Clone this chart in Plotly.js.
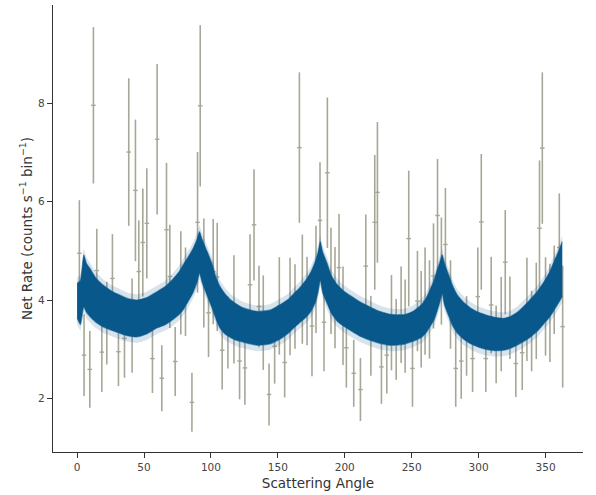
<!DOCTYPE html>
<html>
<head>
<meta charset="utf-8">
<script src="https://cdn.plot.ly/plotly-3.0.1.min.js"></script>
<style>html,body{margin:0;padding:0;background:#fff;}#chart{width:596px;height:495px;}</style>
</head>
<body>
<div id="chart"></div>
<script>
// Observed binned net rate
const angle = [1.7, 5.2, 9.5, 12.2, 14.7, 18.5, 22.2, 26.4, 30.9, 35.4, 38.6, 41.1, 43.6, 46.1,
  49.1, 52.1, 56.3, 59.8, 63.3, 66.8, 69.3, 73.3, 77.5, 81.0, 85.8, 90.0, 92.0, 94.7, 98.2,
  101.7, 104.7, 108.4, 112.7, 117.2, 121.4, 125.4, 129.2, 132.2, 135.9, 139.1, 143.4, 147.6, 151.1,
  155.1, 159.1, 162.8, 166.1, 168.3, 171.8, 175.5, 178.5, 181.5, 184.5, 187.0, 189.7, 192.7, 195.7, 198.7, 201.2,
  206.7, 211.7, 215.7, 219.5, 222.4, 224.4, 227.4, 231.4, 234.9, 238.4, 242.1, 245.1, 247.8, 250.6, 254.3, 257.1,
  260.0, 263.3, 266.3, 269.3, 272.2, 275.2, 279.0, 282.9, 287.0, 291.0, 295.5, 299.4, 302.0, 305.4, 309.4,
  313.1, 316.9, 319.9, 323.4, 327.8, 332.6, 336.1, 339.6, 343.1, 345.5, 347.6, 350.0, 353.3, 356.5, 360.3, 362.8];
const rate = [4.95, 2.88, 2.59, 7.96, 4.60, 2.94, 3.53, 4.44, 2.95, 3.22, 7.01, 3.48, 6.23, 4.58,
  5.17, 5.56, 2.81, 7.27, 2.41, 5.43, 4.48, 2.75, 4.35, 4.17, 1.92, 5.58, 7.95, 4.55, 3.74,
  4.58, 4.47, 2.98, 3.34, 3.81, 2.76, 2.62, 4.31, 5.53, 3.87, 3.54, 2.08, 3.06, 3.88,
  2.73, 3.87, 3.87, 7.10, 4.22, 3.98, 3.47, 4.42, 5.62, 3.55, 6.59, 4.39, 4.05, 4.66, 3.68, 3.03,
  2.51, 2.18, 4.69, 3.27, 5.58, 6.19, 2.64, 2.88, 3.54, 3.20, 3.70, 3.47, 5.25, 2.61, 3.98, 3.61,
  3.98, 3.81, 4.49, 5.72, 4.59, 5.13, 3.91, 2.61, 2.76, 3.27, 2.81, 4.07, 5.59, 2.81, 3.90,
  3.10, 3.51, 4.77, 3.64, 2.71, 2.93, 3.81, 3.37, 3.78, 5.46, 7.09, 3.87, 3.74, 4.21, 5.07, 3.46];
const rateErr = [1.08, 0.83, 0.78, 1.59, 0.85, 0.81, 0.84, 0.90, 0.70, 0.80, 1.50, 0.96, 1.44, 1.04,
  1.10, 1.12, 0.70, 1.53, 0.67, 1.36, 1.05, 0.70, 1.05, 0.90, 0.60, 1.43, 1.64, 1.11, 0.90,
  1.07, 1.10, 0.80, 0.73, 1.10, 0.78, 0.75, 1.03, 1.13, 0.83, 0.96, 0.63, 0.76, 0.99,
  0.71, 0.99, 0.86, 1.53, 1.11, 0.90, 1.02, 1.09, 1.18, 1.00, 1.53, 1.08, 1.03, 1.09, 1.00, 0.81,
  0.68, 0.64, 1.05, 0.81, 1.37, 1.43, 0.75, 0.78, 0.97, 0.82, 0.98, 0.95, 1.38, 0.78, 1.02, 0.98,
  1.09, 1.00, 1.07, 1.15, 1.09, 1.15, 0.90, 0.78, 0.77, 0.81, 0.68, 1.00, 1.38, 0.68, 0.98,
  0.79, 0.96, 1.06, 0.84, 0.68, 0.76, 1.05, 0.82, 0.98, 1.38, 1.54, 1.00, 1.00, 0.90, 1.10, 1.24];
const binHalfWidth = 1.7;

// Posterior model band (edges)
const bandAngle = [0, 2.5,
  5, 7, 9.7, 14, 19.7, 26, 32.2, 38, 44.7, 52, 59.6, 66, 72, 76, 79.5, 83, 87, 89.5, 91.5,
  93.5, 97, 100.7, 104, 107, 110.5, 114.5, 119, 124.4, 134.4, 144.4, 153.1, 158, 161.8, 166, 171.8, 175, 178, 180, 181.7,
  183.5, 186.8, 190, 194.2, 199, 204.2, 211, 219, 226, 234, 244, 251, 257.8, 261, 264, 267, 269, 271, 272.8,
  274.5, 277.7, 280.5, 284, 289, 294, 300, 306.4, 312, 318.9, 324, 328.8, 334, 338.8, 344, 348.8, 353, 356.3, 359.5, 362.5];
const bandUpper = [4.39, 4.45,
  4.97, 4.80, 4.69, 4.50, 4.35, 4.23, 4.15, 4.08, 4.05, 4.10, 4.22, 4.33, 4.49, 4.62, 4.78, 4.93, 5.12, 5.28, 5.44,
  5.28, 5.05, 4.80, 4.50, 4.32, 4.18, 4.06, 3.97, 3.89, 3.82, 3.85, 3.98, 4.07, 4.18, 4.29, 4.49, 4.64, 4.84, 5.02, 5.24,
  5.03, 4.80, 4.55, 4.37, 4.24, 4.14, 4.02, 3.91, 3.82, 3.76, 3.75, 3.82, 3.97, 4.10, 4.28, 4.48, 4.66, 4.82, 4.97,
  4.80, 4.56, 4.35, 4.16, 4.00, 3.89, 3.80, 3.74, 3.70, 3.68, 3.72, 3.80, 3.93, 4.07, 4.23, 4.42, 4.62, 4.83, 5.03, 5.24];
const bandLower = [3.58, 3.45,
  3.81, 3.70, 3.61, 3.50, 3.40, 3.33, 3.27, 3.22, 3.20, 3.26, 3.38, 3.45, 3.56, 3.65, 3.76, 3.92, 4.12, 4.30, 4.49,
  4.30, 4.05, 3.80, 3.55, 3.37, 3.26, 3.19, 3.13, 3.09, 3.03, 3.06, 3.18, 3.28, 3.38, 3.48, 3.62, 3.73, 3.90, 4.10, 4.35,
  4.10, 3.88, 3.68, 3.52, 3.42, 3.33, 3.22, 3.13, 3.07, 3.03, 3.05, 3.11, 3.20, 3.29, 3.42, 3.56, 3.72, 3.90, 4.08,
  3.85, 3.62, 3.43, 3.28, 3.15, 3.06, 2.99, 2.94, 2.92, 2.93, 2.97, 3.03, 3.11, 3.20, 3.32, 3.47, 3.60, 3.74, 3.88, 4.02];

const outer = 0.07, inner = 0.05;
const traces = [
  {x: angle, y: rate, mode: 'markers', marker: {size: 1, color: 'rgba(0,0,0,0)'}, showlegend: false,
   error_y: {type: 'data', array: rateErr, visible: true, color: '#a7a797', thickness: 1.6, width: 0},
   error_x: {type: 'constant', value: binHalfWidth, visible: true, color: '#a7a797', thickness: 1.4, width: 0}},
  {x: bandAngle, y: bandUpper.map(v => v + outer), mode: 'lines', line: {width: 0, shape: 'spline', smoothing: 0.5}, hoverinfo: 'skip', showlegend: false},
  {x: bandAngle, y: bandLower.map(v => v - outer), mode: 'lines', line: {width: 0, shape: 'spline', smoothing: 0.5}, fill: 'tonexty', fillcolor: 'rgba(8,88,140,0.16)', hoverinfo: 'skip', showlegend: false},
  {x: bandAngle, y: bandUpper.map(v => v - inner), mode: 'lines', line: {width: 1.2, color: 'rgba(8,88,140,0.5)', shape: 'spline', smoothing: 0.5}, hoverinfo: 'skip', showlegend: false},
  {x: bandAngle, y: bandLower.map(v => v + inner), mode: 'lines', line: {width: 1.2, color: 'rgba(8,88,140,0.5)', shape: 'spline', smoothing: 0.5}, fill: 'tonexty', fillcolor: 'rgb(8,88,140)', hoverinfo: 'skip', showlegend: false}
];

const font = {family: 'DejaVu Sans, sans-serif', color: '#333'};
const layout = {
  width: 596, height: 495,
  margin: {l: 53, r: 13, t: 5, b: 43},
  paper_bgcolor: '#fff', plot_bgcolor: '#fff',
  showlegend: false,
  font: font,
  xaxis: {
    range: [-18, 378], showgrid: false, zeroline: false,
    showline: true, linecolor: '#333', linewidth: 1.1,
    ticks: 'outside', ticklen: 5, tickwidth: 1, tickcolor: '#333',
    tickvals: [0, 50, 100, 150, 200, 250, 300, 350],
    tickfont: {family: font.family, size: 10.5, color: '#444'},
    title: {text: 'Scattering Angle', font: {family: font.family, size: 13.5, color: '#333'}, standoff: 6}
  },
  yaxis: {
    range: [0.91, 10.0], showgrid: false, zeroline: false,
    showline: true, linecolor: '#333', linewidth: 1.1,
    ticks: 'outside', ticklen: 5, tickwidth: 1, tickcolor: '#333',
    tickvals: [2, 4, 6, 8],
    tickfont: {family: font.family, size: 10.5, color: '#444'},
    title: {text: 'Net Rate (counts s<sup>\u22121</sup> bin<sup>\u22121</sup>)', font: {family: font.family, size: 13.5, color: '#333'}, standoff: 2}
  }
};
Plotly.newPlot('chart', traces, layout, {staticPlot: true, displayModeBar: false});
</script>
</body>
</html>
